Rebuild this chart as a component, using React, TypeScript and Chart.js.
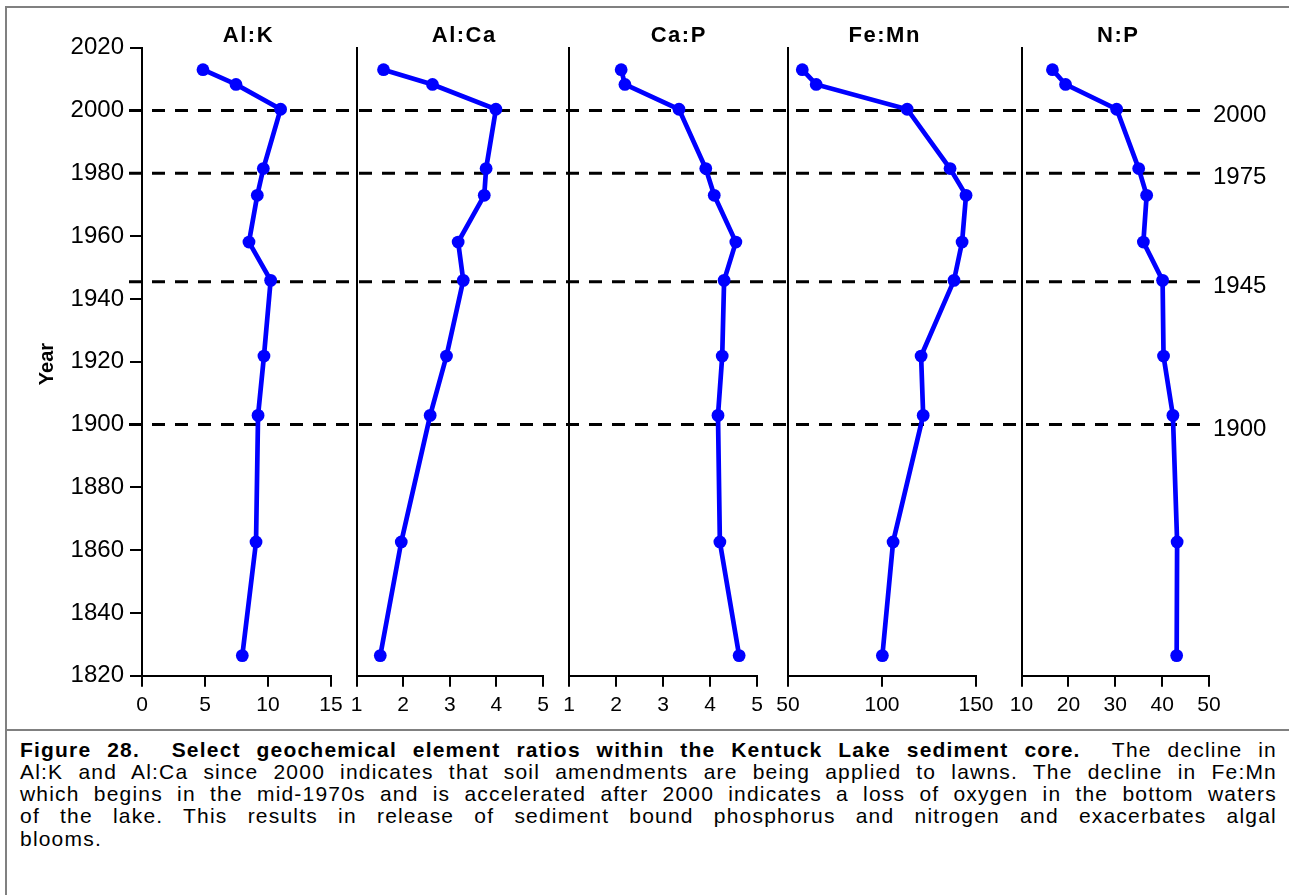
import React, { useEffect, useRef } from "react";
import { Chart, registerables } from "chart.js";

Chart.register(...registerables);

// Sediment core sample dates (years) and element ratios, top of core first
const years = [2013, 2008.3, 2000.4, 1981.5, 1973, 1958.1, 1945.9, 1921.8, 1902.9, 1862.6, 1826.4];
const alK = [4.84, 7.46, 11.0, 9.63, 9.15, 8.49, 10.21, 9.68, 9.21, 9.05, 7.96];
const alCa = [1.58, 2.63, 3.99, 3.78, 3.74, 3.18, 3.29, 2.93, 2.58, 1.96, 1.51];
const caP = [2.11, 2.19, 3.34, 3.91, 4.09, 4.55, 4.3, 4.26, 4.17, 4.21, 4.62];
const feMn = [57.6, 65.0, 113.4, 136.2, 144.7, 142.6, 138.3, 120.8, 121.9, 105.9, 100.2];
const nP = [16.6, 19.4, 30.3, 35.0, 36.7, 36.0, 40.1, 40.3, 42.3, 43.2, 43.1];

const panelTitles = ["Al:K", "Al:Ca", "Ca:P", "Fe:Mn", "N:P"];
const panelSeries = [alK, alCa, caP, feMn, nP];
const xMins = [0, 1, 1, 50, 10];
const xMaxs = [15, 5, 5, 150, 50];
const xSteps = [5, 1, 1, 50, 10];

const yearMin = 1820;
const yearMax = 2020;
const yearStep = 20;

// Reference horizons across all panels and their labels on the right
const horizonYears = [2000, 1980, 1945.5, 1900];
const horizonLabels = ["2000", "1975", "1945", "1900"];

// Page geometry of the panels
const AREA_LEFT = [142, 356.5, 569, 788, 1021.5];
const AREA_RIGHT = [331, 543, 757, 976, 1209];
const CANVAS_LEFT = [10, 346, 559, 774, 1007];
const CANVAS_RIGHT = [346, 559, 774, 1007, 1287];
const CANVAS_TOP = 10;
const CANVAS_BOTTOM = 720;
const AREA_TOP = 47.7;
const AREA_BOTTOM = 675.7;
const TITLE_CX = [247.7, 463.5, 678, 884, 1117.5];
const TITLE_BASELINE = 41.7;
const DASH_START = 129;
const DASH_END = 1207;

const FONT = "'Liberation Sans', Arial, Helvetica, sans-serif";
const BLUE = "#0000ff";

function spacedText(ctx: CanvasRenderingContext2D, text: string, cx: number, y: number, spacing: number) {
  (ctx as any).letterSpacing = `${spacing}px`;
  const w = ctx.measureText(text).width - spacing;
  ctx.textAlign = "left";
  ctx.fillText(text, cx - w / 2, y);
  (ctx as any).letterSpacing = "0px";
}

const overlayPlugin = {
  id: "overlay",
  beforeDatasetsDraw(chart: any, _args: any, opts: any) {
    const { ctx, scales } = chart;
    const ys = scales.y;
    ctx.save();
    ctx.strokeStyle = "#000";
    ctx.lineWidth = 3;
    ctx.setLineDash([13, 10]);
    for (const yr of horizonYears) {
      const py = ys.getPixelForValue(yr);
      ctx.lineDashOffset = opts.x0 + opts.pageLeft - DASH_START;
      ctx.beginPath();
      ctx.moveTo(opts.x0, py);
      ctx.lineTo(opts.x1, py);
      ctx.stroke();
    }
    ctx.restore();
  },
  afterDraw(chart: any, _args: any, opts: any) {
    const { ctx, scales } = chart;
    const ys = scales.y;
    ctx.save();
    ctx.fillStyle = "#000";
    ctx.textBaseline = "alphabetic";
    ctx.font = `bold 22px ${FONT}`;
    spacedText(ctx, opts.title, opts.titleX, opts.titleY, 1.5);
    if (opts.yearLabel) {
      ctx.save();
      ctx.translate(opts.yearX, opts.yearY);
      ctx.rotate(-Math.PI / 2);
      ctx.font = `bold 20px ${FONT}`;
      ctx.textAlign = "center";
      ctx.fillText("Year", 0, 0);
      ctx.restore();
    }
    if (opts.horizonText) {
      ctx.textAlign = "left";
      ctx.font = `24px ${FONT}`;
      horizonYears.forEach((yr, k) => {
        const py = ys.getPixelForValue(yr);
        ctx.fillText(horizonLabels[k], opts.labelX, py + 11);
      });
    }
    ctx.restore();
  },
};

function Panel({ index }: { index: number }) {
  const ref = useRef<HTMLCanvasElement>(null);
  const left = CANVAS_LEFT[index];
  const width = CANVAS_RIGHT[index] - left;
  const height = CANVAS_BOTTOM - CANVAS_TOP;

  useEffect(() => {
    if (!ref.current) return;
    const first = index === 0;
    const last = index === panelTitles.length - 1;
    const series = panelSeries[index];
    const chart = new Chart(ref.current, {
      type: "scatter",
      data: {
        datasets: [
          {
            data: years.map((yr, k) => ({ x: series[k], y: yr })),
            showLine: true,
            borderColor: BLUE,
            backgroundColor: BLUE,
            borderWidth: 4.7,
            pointRadius: 6.4,
            pointHoverRadius: 6.4,
            pointBorderWidth: 0,
            clip: false,
          } as any,
        ],
      },
      options: {
        responsive: false,
        animation: false,
        events: [],
        layout: {
          padding: {
            left: 0,
            right: CANVAS_RIGHT[index] - AREA_RIGHT[index],
            top: AREA_TOP - CANVAS_TOP,
            bottom: 0,
          },
        },
        plugins: {
          legend: { display: false },
          tooltip: { enabled: false },
          overlay: {
            pageLeft: left,
            x0: first ? DASH_START - left : 0,
            x1: last ? DASH_END - left : width,
            title: panelTitles[index],
            titleX: TITLE_CX[index] - left,
            titleY: TITLE_BASELINE - CANVAS_TOP,
            yearLabel: first,
            yearX: 53 - left,
            yearY: 364 - CANVAS_TOP,
            horizonText: last,
            labelX: 1213 - left,
          },
        } as any,
        scales: {
          x: {
            type: "linear",
            min: xMins[index],
            max: xMaxs[index],
            ticks: {
              stepSize: xSteps[index],
              color: "#000",
              font: { family: FONT, size: 21 },
              padding: 6,
              maxRotation: 0,
              callback: (v: any) => String(v),
            },
            grid: { drawOnChartArea: false, tickLength: 11, color: "#000", lineWidth: 2 },
            border: { color: "#000", width: 2 },
            afterFit: (s: any) => {
              s.height = CANVAS_BOTTOM - AREA_BOTTOM;
              s.paddingLeft = 0;
              s.paddingRight = 0;
            },
          },
          y: {
            type: "linear",
            min: yearMin,
            max: yearMax,
            ticks: {
              stepSize: yearStep,
              display: first,
              color: "#000",
              font: { family: FONT, size: 24 },
              padding: 6,
              callback: (v: any) => String(v),
            },
            grid: {
              drawOnChartArea: false,
              drawTicks: first,
              tickLength: 12,
              color: "#000",
              lineWidth: 2,
            },
            border: { color: "#000", width: 2 },
            afterFit: (s: any) => {
              s.width = AREA_LEFT[index] - left;
              s.paddingTop = 0;
              s.paddingBottom = 0;
            },
          },
        },
      } as any,
      plugins: [overlayPlugin as any],
    });
    return () => chart.destroy();
  }, [index]);

  return (
    <canvas
      ref={ref}
      width={width}
      height={height}
      style={{ position: "absolute", left, top: CANVAS_TOP, width, height }}
    />
  );
}

const justified: React.CSSProperties = {
  textAlign: "justify",
  textAlignLast: "justify",
  whiteSpace: "nowrap",
};

export default function App() {
  useEffect(() => {
    document.documentElement.style.overflow = "hidden";
    document.body.style.overflow = "hidden";
  }, []);
  return (
    <div
      style={{
        position: "absolute",
        left: 0,
        top: 0,
        width: 1289,
        height: 895,
        overflow: "hidden",
        background: "#fff",
        fontFamily: FONT,
        color: "#000",
      }}
    >
      <div
        style={{
          position: "absolute",
          left: 5,
          top: 6,
          width: 1320,
          height: 920,
          border: "2px solid #808080",
          boxSizing: "border-box",
        }}
      />
      <div
        style={{ position: "absolute", left: 5, top: 729, width: 1320, height: 2, background: "#808080" }}
      />
      {panelTitles.map((_, i) => (
        <Panel key={i} index={i} />
      ))}
      <div
        style={{
          position: "absolute",
          left: 20,
          top: 738.7,
          width: 1257,
          fontSize: 21,
          lineHeight: "22.2px",
          letterSpacing: "1.2px",
        }}
      >
        <div style={justified}>
          <b>Figure 28.{"\u00a0 "}Select geochemical element ratios within the Kentuck Lake sediment core.</b>
          {"\u00a0 "}The decline in
        </div>
        <div style={justified}>
          Al:K and Al:Ca since 2000 indicates that soil amendments are being applied to lawns. The decline in Fe:Mn
        </div>
        <div style={justified}>
          which begins in the mid-1970s and is accelerated after 2000 indicates a loss of oxygen in the bottom waters
        </div>
        <div style={justified}>
          of the lake. This results in release of sediment bound phosphorus and nitrogen and exacerbates algal
        </div>
        <div>blooms.</div>
      </div>
    </div>
  );
}
